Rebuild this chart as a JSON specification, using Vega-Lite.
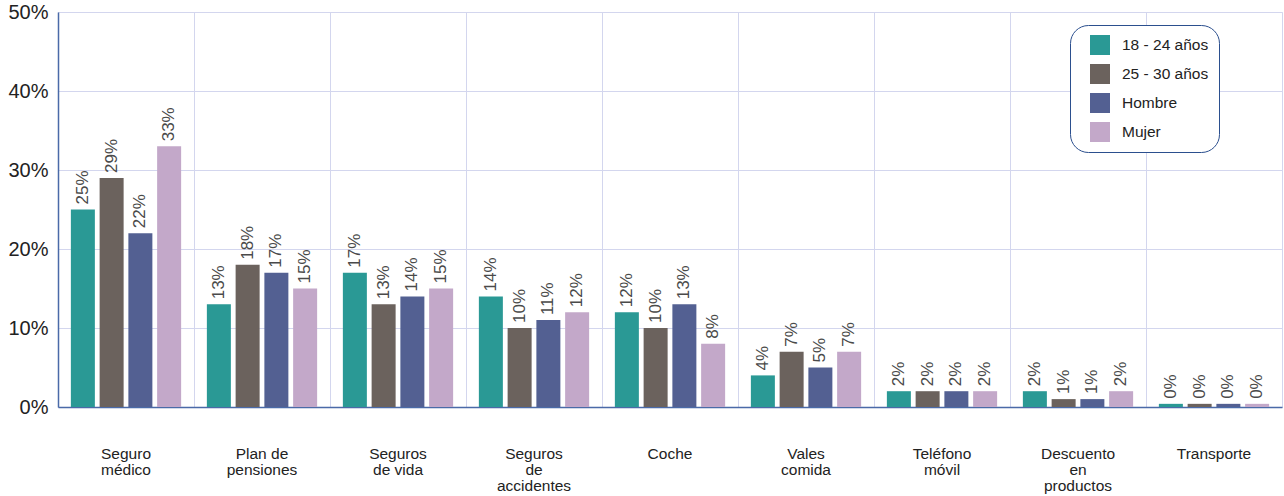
{
  "$schema": "https://vega.github.io/schema/vega-lite/v6.json",
  "width": 1224,
  "height": 395,
  "autosize": {"type": "none"},
  "padding": {"left": 58, "top": 12, "right": 2, "bottom": 89},
  "background": "white",
  "config": {
    "font": "Liberation Sans",
    "view": {"stroke": "#d3d6ee", "strokeWidth": 1}
  },
  "data": {
    "values": [
      {"cat": "Seguro médico", "grupo": "18 - 24 años", "v": 0.25},
      {"cat": "Seguro médico", "grupo": "25 - 30 años", "v": 0.29},
      {"cat": "Seguro médico", "grupo": "Hombre", "v": 0.22},
      {"cat": "Seguro médico", "grupo": "Mujer", "v": 0.33},
      {"cat": "Plan de pensiones", "grupo": "18 - 24 años", "v": 0.13},
      {"cat": "Plan de pensiones", "grupo": "25 - 30 años", "v": 0.18},
      {"cat": "Plan de pensiones", "grupo": "Hombre", "v": 0.17},
      {"cat": "Plan de pensiones", "grupo": "Mujer", "v": 0.15},
      {"cat": "Seguros de vida", "grupo": "18 - 24 años", "v": 0.17},
      {"cat": "Seguros de vida", "grupo": "25 - 30 años", "v": 0.13},
      {"cat": "Seguros de vida", "grupo": "Hombre", "v": 0.14},
      {"cat": "Seguros de vida", "grupo": "Mujer", "v": 0.15},
      {"cat": "Seguros de accidentes", "grupo": "18 - 24 años", "v": 0.14},
      {"cat": "Seguros de accidentes", "grupo": "25 - 30 años", "v": 0.10},
      {"cat": "Seguros de accidentes", "grupo": "Hombre", "v": 0.11},
      {"cat": "Seguros de accidentes", "grupo": "Mujer", "v": 0.12},
      {"cat": "Coche", "grupo": "18 - 24 años", "v": 0.12},
      {"cat": "Coche", "grupo": "25 - 30 años", "v": 0.10},
      {"cat": "Coche", "grupo": "Hombre", "v": 0.13},
      {"cat": "Coche", "grupo": "Mujer", "v": 0.08},
      {"cat": "Vales comida", "grupo": "18 - 24 años", "v": 0.04},
      {"cat": "Vales comida", "grupo": "25 - 30 años", "v": 0.07},
      {"cat": "Vales comida", "grupo": "Hombre", "v": 0.05},
      {"cat": "Vales comida", "grupo": "Mujer", "v": 0.07},
      {"cat": "Teléfono móvil", "grupo": "18 - 24 años", "v": 0.02},
      {"cat": "Teléfono móvil", "grupo": "25 - 30 años", "v": 0.02},
      {"cat": "Teléfono móvil", "grupo": "Hombre", "v": 0.02},
      {"cat": "Teléfono móvil", "grupo": "Mujer", "v": 0.02},
      {"cat": "Descuento en productos", "grupo": "18 - 24 años", "v": 0.02},
      {"cat": "Descuento en productos", "grupo": "25 - 30 años", "v": 0.01},
      {"cat": "Descuento en productos", "grupo": "Hombre", "v": 0.01},
      {"cat": "Descuento en productos", "grupo": "Mujer", "v": 0.02},
      {"cat": "Transporte", "grupo": "18 - 24 años", "v": 0.004},
      {"cat": "Transporte", "grupo": "25 - 30 años", "v": 0.004},
      {"cat": "Transporte", "grupo": "Hombre", "v": 0.004},
      {"cat": "Transporte", "grupo": "Mujer", "v": 0.004}
    ]
  },
  "encoding": {
    "x": {
      "field": "cat",
      "type": "nominal",
      "sort": null,
      "scale": {"paddingInner": 0, "paddingOuter": 0},
      "axis": {
        "title": null,
        "labelAngle": 0,
        "labelFontSize": 15.5,
        "labelColor": "#222222",
        "labelPadding": 39,
        "labelBaseline": "top",
        "labelLineHeight": 16,
        "labelExpr": "datum.value == 'Seguro médico' ? ['Seguro','médico'] : datum.value == 'Plan de pensiones' ? ['Plan de','pensiones'] : datum.value == 'Seguros de vida' ? ['Seguros','de vida'] : datum.value == 'Seguros de accidentes' ? ['Seguros','de','accidentes'] : datum.value == 'Vales comida' ? ['Vales','comida'] : datum.value == 'Teléfono móvil' ? ['Teléfono','móvil'] : datum.value == 'Descuento en productos' ? ['Descuento','en','productos'] : datum.value",
        "ticks": false,
        "grid": true,
        "bandPosition": 0,
        "gridColor": "#d3d6ee",
        "gridWidth": 1,
        "domainColor": "#4a6aa8",
        "domainWidth": 1.5
      }
    },
    "xOffset": {
      "field": "grupo",
      "type": "nominal",
      "scale": {"paddingInner": 0.17, "paddingOuter": 0.45}
    },
    "y": {
      "field": "v",
      "type": "quantitative",
      "scale": {"domain": [0, 0.5], "nice": false},
      "axis": {
        "title": null,
        "format": ".0%",
        "values": [0, 0.1, 0.2, 0.3, 0.4, 0.5],
        "labelFontSize": 20,
        "labelColor": "#222222",
        "labelPadding": 10,
        "ticks": false,
        "gridColor": "#d3d6ee",
        "gridWidth": 1,
        "domainColor": "#4a6aa8",
        "domainWidth": 1.5
      }
    }
  },
  "layer": [
    {
      "mark": {"type": "bar", "width": 24},
      "encoding": {
        "color": {
          "field": "grupo",
          "type": "nominal",
          "scale": {
            "domain": ["18 - 24 años", "25 - 30 años", "Hombre", "Mujer"],
            "range": ["#2a9995", "#6b625d", "#536092", "#c3a8c9"]
          },
          "legend": {
            "title": null,
            "orient": "none",
            "legendX": 1012,
            "legendY": 13,
            "symbolType": "square",
            "symbolSize": 400,
            "symbolStrokeWidth": 0,
            "symbolOffset": 10,
            "labelFontSize": 15.5,
            "labelColor": "#222222",
            "labelOffset": 12,
            "rowPadding": 9,
            "padding": 10,
            "cornerRadius": 18,
            "strokeColor": "#2b4f8e",
            "fillColor": "white"
          }
        }
      }
    },
    {
      "mark": {
        "type": "text",
        "angle": 270,
        "align": "left",
        "baseline": "middle",
        "dx": 5,
        "fontSize": 17,
        "color": "#4a4a4a"
      },
      "encoding": {
        "text": {"field": "v", "type": "quantitative", "format": ".0%"}
      }
    }
  ]
}
